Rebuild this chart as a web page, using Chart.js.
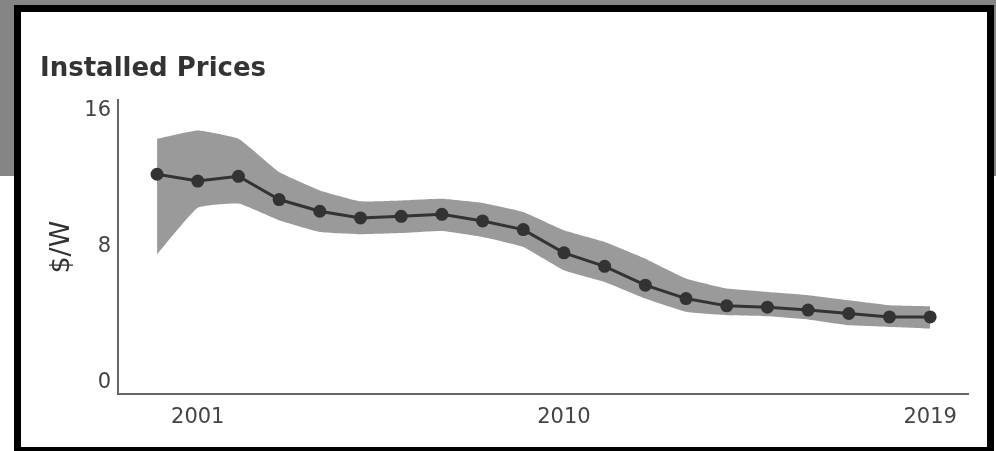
<!DOCTYPE html>
<html>
<head>
<meta charset="utf-8">
<script src="https://cdn.jsdelivr.net/npm/chart.js@4/dist/chart.umd.min.js"></script>
<style>
  html, body { margin: 0; padding: 0; background: #ffffff; overflow: hidden; }
  body { width: 996px; height: 451px; position: relative; }
  #band { position: absolute; left: 0; top: 0; width: 996px; height: 176px; background: #858585; }
  #frame { position: absolute; left: 14px; top: 5px; width: 980px; height: 449px;
           box-sizing: border-box; border: 7px solid #000; background: #fff; }
  #chart { position: absolute; left: 0; top: 0; }
</style>
</head>
<body>
<div id="band"></div>
<div id="frame"></div>
<canvas id="chart" width="996" height="451"></canvas>
<script>
// Installed PV prices, $/W, by year: median with the surrounding range
const years  = [2000, 2001, 2002, 2003, 2004, 2005, 2006, 2007, 2008, 2009,
                2010, 2011, 2012, 2013, 2014, 2015, 2016, 2017, 2018, 2019];
const median = [12.24, 11.84, 12.12, 10.75, 10.06, 9.67, 9.76, 9.88, 9.49, 8.98,
                7.61, 6.82, 5.71, 4.92, 4.49, 4.41, 4.24, 4.04, 3.84, 3.84];
const upper  = [14.33, 14.82, 14.33, 12.37, 11.29, 10.65, 10.70, 10.80, 10.55, 10.02,
                8.94, 8.25, 7.27, 6.10, 5.51, 5.31, 5.12, 4.82, 4.53, 4.47];
const lower  = [7.53, 10.27, 10.51, 9.53, 8.84, 8.71, 8.78, 8.90, 8.55, 7.96,
                6.59, 5.90, 4.92, 4.14, 3.94, 3.88, 3.69, 3.35, 3.25, 3.15];
const xTicks = [2001, 2010, 2019];
const yTicks = [0, 8, 16];

const pts = vals => years.map((y, i) => ({ x: y, y: vals[i] }));
const tickFont = { family: 'DejaVu Sans', size: 21 };

new Chart(document.getElementById('chart'), {
  type: 'line',
  data: {
    datasets: [
      { label: 'Upper', data: pts(upper), borderWidth: 0, pointRadius: 0,
        backgroundColor: '#9a9a9a', fill: '+1', tension: 0.12, order: 2 },
      { label: 'Lower', data: pts(lower), borderWidth: 0, pointRadius: 0,
        backgroundColor: '#9a9a9a', fill: false, tension: 0.12, order: 2 },
      { label: 'Median', data: pts(median), borderColor: '#333333', borderWidth: 3,
        pointRadius: 6.5, pointBackgroundColor: '#333333', pointBorderWidth: 0,
        fill: false, tension: 0, order: 1 }
    ]
  },
  options: {
    responsive: false,
    animation: false,
    layout: { padding: { left: 40, right: 28, top: 0, bottom: 17 } },
    plugins: {
      legend: { display: false },
      tooltip: { enabled: false },
      title: {
        display: true, text: 'Installed Prices', align: 'start', color: '#333333',
        font: { family: 'DejaVu Sans', size: 26, weight: 'bold', lineHeight: 1.2 },
        padding: { top: 54, bottom: 15 }
      }
    },
    scales: {
      x: {
        type: 'linear', min: 1999.04, max: 2019.93,
        grid: { display: false, drawTicks: false },
        border: { display: true, color: '#666666', width: 2 },
        afterBuildTicks: s => { s.ticks = xTicks.map(v => ({ value: v })); },
        afterFit: s => { s.height = 40; },
        ticks: { color: '#444444', font: tickFont, padding: 11, maxRotation: 0,
                 callback: v => String(v) }
      },
      y: {
        type: 'linear', min: -0.7, max: 16.6,
        grid: { display: false, drawTicks: false },
        border: { display: true, color: '#666666', width: 2 },
        afterBuildTicks: s => { s.ticks = yTicks.map(v => ({ value: v })); },
        afterFit: s => { s.width = 78; },
        ticks: { color: '#444444', font: tickFont, padding: 7, callback: v => String(v) },
        title: { display: true, text: '$/W', color: '#333333',
                 font: { family: 'DejaVu Sans', size: 27 }, padding: { top: 6, bottom: 0 } }
      }
    }
  }
});
</script>
</body>
</html>
